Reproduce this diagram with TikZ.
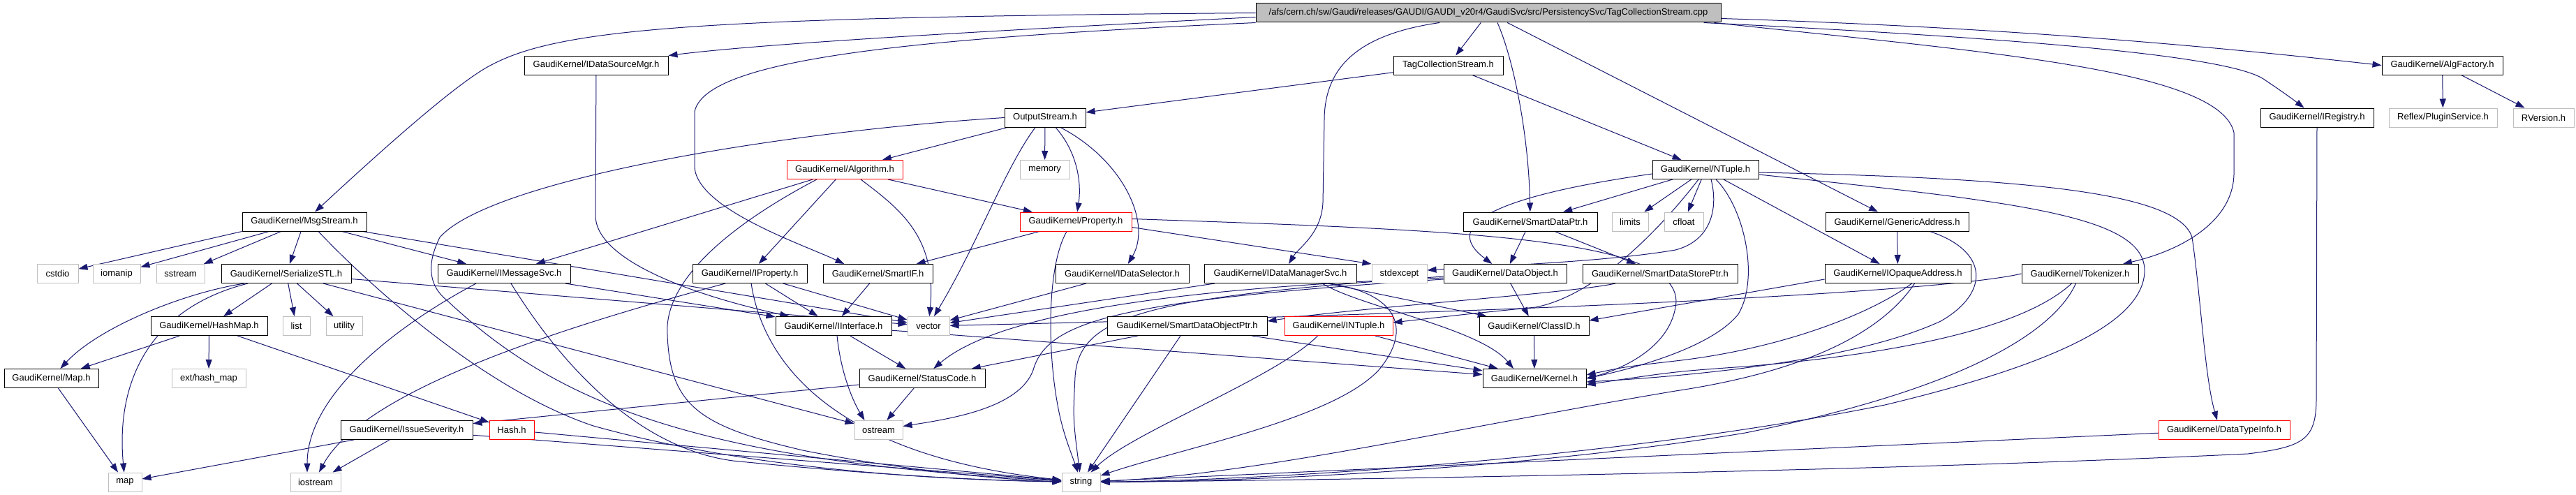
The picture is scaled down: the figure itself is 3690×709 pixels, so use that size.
\documentclass[tikz,border=0pt]{standalone}
\usepackage{fontspec}
\setmainfont{Liberation Sans}
\usetikzlibrary{arrows.meta}
\pgfdeclarelayer{bg}
\pgfsetlayers{bg,main}
\definecolor{edgeblue}{RGB}{25,25,112}
\definecolor{grayborder}{RGB}{191,191,191}
\definecolor{rootfill}{RGB}{191,191,191}
\tikzset{
  nb/.style={draw=black, fill=white, line width=1pt, minimum height=27pt, inner sep=0pt, font=\fontsize{13pt}{15pt}\selectfont, text=black},
  ng/.style={nb, draw=grayborder},
  nr/.style={nb, draw=red},
  nroot/.style={nb, fill=rootfill},
  dep/.style={draw=edgeblue, line width=1pt, -{Triangle[length=13pt,width=9pt]}},
}
\begin{document}
\begin{tikzpicture}[x=1pt,y=-1pt]
\useasboundingbox (0,0) rectangle (3690,709);
% row 0
\node[nroot, minimum width=666pt] (root) at (2132,18.5) {/afs/cern.ch/sw/Gaudi/releases/GAUDI/GAUDI\_v20r4/GaudiSvc/src/PersistencySvc/TagCollectionStream.cpp};
% row 1
\node[nb, minimum width=206pt] (dsm) at (854,93.5) {GaudiKernel/IDataSourceMgr.h};
\node[nb, minimum width=157pt] (tcs) at (2074.5,93.5) {TagCollectionStream.h};
\node[nb, minimum width=173pt] (algf) at (3498.5,93.5) {GaudiKernel/AlgFactory.h};
% row 2
\node[nb, minimum width=116pt] (outs) at (1497,168.5) {OutputStream.h};
\node[nb, minimum width=162pt] (ireg) at (3319,168.5) {GaudiKernel/IRegistry.h};
\node[ng, minimum width=155pt] (plug) at (3499.5,168.5) {Reflex/PluginService.h};
\node[ng, minimum width=87pt] (rver) at (3643.5,168.5) {RVersion.h};
% row 3
\node[nr, minimum width=166pt] (algo) at (1210,243) {GaudiKernel/Algorithm.h};
\node[ng, minimum width=71pt] (mem) at (1496.5,243) {memory};
\node[nb, minimum width=152pt] (ntup) at (2443,243) {GaudiKernel/NTuple.h};
% row 4
\node[nb, minimum width=178pt] (msg) at (436,317.5) {GaudiKernel/MsgStream.h};
\node[nr, minimum width=160pt] (prop) at (1541,317.5) {GaudiKernel/Property.h};
\node[nb, minimum width=192pt] (sdp) at (2192,317.5) {GaudiKernel/SmartDataPtr.h};
\node[ng, minimum width=52pt] (lim) at (2335,317.5) {limits};
\node[ng, minimum width=56pt] (cfl) at (2412,317.5) {cfloat};
\node[nb, minimum width=205pt] (gen) at (2717.5,317.5) {GaudiKernel/GenericAddress.h};
% row 5
\node[ng, minimum width=59pt] (cstd) at (82.5,392) {cstdio};
\node[ng, minimum width=68pt] (ioma) at (167,392) {iomanip};
\node[ng, minimum width=69pt] (sstr) at (258.5,392) {sstream};
\node[nb, minimum width=186pt] (ser) at (410,392) {GaudiKernel/SerializeSTL.h};
\node[nb, minimum width=190pt] (imsg) at (722,392) {GaudiKernel/IMessageSvc.h};
\node[nb, minimum width=164pt] (iprop) at (1074,392) {GaudiKernel/IProperty.h};
\node[nb, minimum width=157pt] (sif) at (1257.5,392) {GaudiKernel/SmartIF.h};
\node[nb, minimum width=191pt] (dsel) at (1607.5,392) {GaudiKernel/IDataSelector.h};
\node[nb, minimum width=218pt] (dmgr) at (1834,392) {GaudiKernel/IDataManagerSvc.h};
\node[ng, minimum width=79pt] (stdx) at (2004.5,392) {stdexcept};
\node[nb, minimum width=176pt] (dobj) at (2156,392) {GaudiKernel/DataObject.h};
\node[nb, minimum width=222pt] (sdsp) at (2378,392) {GaudiKernel/SmartDataStorePtr.h};
\node[nb, minimum width=209pt] (opq) at (2718.5,392) {GaudiKernel/IOpaqueAddress.h};
\node[nb, minimum width=167pt] (tok) at (2979.5,392) {GaudiKernel/Tokenizer.h};
% row 6
\node[nb, minimum width=167pt] (hmap) at (299.5,467) {GaudiKernel/HashMap.h};
\node[ng, minimum width=39pt] (lst) at (424.5,467) {list};
\node[ng, minimum width=52pt] (util) at (493,467) {utility};
\node[nb, minimum width=166pt] (iint) at (1194,467) {GaudiKernel/IInterface.h};
\node[ng, minimum width=60pt] (vec) at (1330,467) {vector};
\node[nb, minimum width=229pt] (sdop) at (1700.5,467) {GaudiKernel/SmartDataObjectPtr.h};
\node[nr, minimum width=155pt] (intup) at (1917.5,467) {GaudiKernel/INTuple.h};
\node[nb, minimum width=157pt] (cid) at (2197.5,467) {GaudiKernel/ClassID.h};
% row 7
\node[nb, minimum width=135pt] (mapH) at (73.5,542) {GaudiKernel/Map.h};
\node[ng, minimum width=106pt] (ehm) at (299,542) {ext/hash\_map};
\node[nb, minimum width=180pt] (sc) at (1321,542) {GaudiKernel/StatusCode.h};
\node[nb, minimum width=148pt] (kern) at (2198,542) {GaudiKernel/Kernel.h};
% row 8
\node[nb, minimum width=189pt] (iss) at (582.5,616) {GaudiKernel/IssueSeverity.h};
\node[nr, minimum width=64pt] (hash) at (733,616) {Hash.h};
\node[ng, minimum width=69pt] (ost) at (1258.5,616) {ostream};
\node[nr, minimum width=188pt] (dti) at (3186,616) {GaudiKernel/DataTypeInfo.h};
% row 9
\node[ng, minimum width=48pt] (mapS) at (179,690.5) {map};
\node[ng, minimum width=72pt] (iost) at (452,690.5) {iostream};
\node[ng, minimum width=55pt] (str) at (1548.5,690.5) {string};

\begin{pgfonlayer}{bg}
\fill[white] (0,0) rectangle (3690,709);
% root
\draw[dep] (root.west) .. controls (1000,25) and (800,40) .. (700,95) .. controls (645,125) and (520,240) .. (msg);
\draw[dep] ([yshift=-6pt]root.west) .. controls (1400,45) and (1100,62) .. (dsm.north east);
\draw[dep] (root) -- (tcs);
\draw[dep] (root.south west) .. controls (1300,55) and (1010,85) .. (995,160) -- (995,240) .. controls (1000,300) and (1150,350) .. ([xshift=-48pt]sif.north);
\draw[dep] ([xshift=-70pt]root.south) .. controls (1940,50) and (1898,100) .. (1897,170) -- (1895,290) .. controls (1893,335) and (1860,355) .. ([xshift=12pt]dmgr.north);
\draw[dep] ([xshift=13pt]root.south) .. controls (2170,90) and (2190,200) .. (sdp);
\draw[dep] (root) -- (gen);
\draw[dep] ([yshift=-8pt]root.east) .. controls (2900,40) and (3200,70) .. (algf.west);
\draw[dep] ([xshift=-25pt]root.south east) .. controls (2900,55) and (3200,80) .. (3245,115) .. controls (3275,135) and (3292,148) .. (ireg);
\draw[dep] ([xshift=-10pt]root.south east) .. controls (2850,75) and (3180,100) .. (3200,190) -- (3200,250) .. controls (3198,320) and (3120,360) .. (tok);
% TagCollectionStream.h
\draw[dep] (tcs) -- (outs);
\draw[dep] (tcs) -- (ntup);
% AlgFactory
\draw[dep] (algf) -- (plug);
\draw[dep] (algf) -- (rver);
% IRegistry
\draw[dep] (ireg) -- (3318,570) .. controls (3318,630) and (3300,640) .. (3220,650) .. controls (2700,675) and (1900,688) .. (str);
% OutputStream
\draw[dep] (outs) -- (algo);
\draw[dep] (outs) -- (mem);
\draw[dep] ([xshift=15pt]outs.south) .. controls (1545,220) and (1549,265) .. (prop);
\draw[dep] ([xshift=22pt]outs.south) .. controls (1610,230) and (1650,320) .. (dsel);
\draw[dep] ([xshift=-14pt]outs.south) .. controls (1440,240) and (1400,350) .. ([xshift=8pt]vec.north);
\draw[dep] (outs.west) .. controls (1100,190) and (700,260) .. (630,340) .. controls (610,380) and (615,410) .. (640,430) .. controls (800,580) and (1000,660) .. (str);
% Algorithm
\draw[dep] (algo) -- (prop);
\draw[dep] (algo) -- (imsg);
\draw[dep] (algo) -- (iprop);
\draw[dep] ([xshift=23pt]algo.south) .. controls (1290,300) and (1342,340) .. (vec);
\draw[dep] ([xshift=-40pt]algo.south) .. controls (1050,320) and (950,400) .. (956,480) .. controls (960,580) and (1000,610) .. (1150,645) .. controls (1300,675) and (1450,688) .. (str);
% Property
\draw[dep] ([xshift=-52pt]prop.south) -- ([xshift=55pt]sif.north);
\draw[dep] ([xshift=-13pt]prop.south) .. controls (1500,380) and (1500,500) .. (1515,580) .. controls (1522,620) and (1535,650) .. (str);
\draw[dep] ([yshift=-8pt]prop.east) -- (stdx.north west);
\draw[dep] ([yshift=4pt]prop.east) .. controls (2100,330) and (2420,340) .. (2400,440) .. controls (2390,500) and (2320,530) .. (kern.east);
% MsgStream
\draw[dep] (msg.south west) -- (cstd);
\draw[dep] (msg) -- (ioma);
\draw[dep] (msg) -- (sstr);
\draw[dep] (msg) -- (ser);
\draw[dep] (msg) -- (imsg);
\draw[dep] (msg) -- (vec);
\draw[dep] ([xshift=20pt]msg.south) .. controls (540,420) and (700,560) .. (850,610) .. controls (1100,680) and (1400,688) .. (str);
% SerializeSTL
\draw[dep] ([xshift=-60pt]ser.south) .. controls (260,420) and (140,470) .. (mapH);
\draw[dep] ([xshift=-55pt]ser.south) .. controls (220,440) and (165,540) .. (mapS);
\draw[dep] (ser) -- (hmap);
\draw[dep] (ser) -- (lst);
\draw[dep] (ser) -- (util);
\draw[dep] (ser) -- (vec);
\draw[dep] (ser) -- (ost);
% HashMap, Map, Hash
\draw[dep] (hmap) -- (mapH);
\draw[dep] (hmap) -- (ehm);
\draw[dep] (hmap) -- (hash);
\draw[dep] (mapH) -- (mapS);
\draw[dep] (hash) -- (str);
% IssueSeverity
\draw[dep] (iss) -- (mapS);
\draw[dep] (iss) -- (iost);
\draw[dep] (iss) -- (str);
% IMessageSvc
\draw[dep] (imsg) -- (iint);
\draw[dep] ([xshift=-40pt]imsg.south) .. controls (580,460) and (440,560) .. ([xshift=-12pt]iost.north);
\draw[dep] ([xshift=10pt]imsg.south) .. controls (790,500) and (900,640) .. (1050,660) .. controls (1250,680) and (1400,688) .. (str);
% IProperty
\draw[dep] (iprop) -- (iint);
\draw[dep] ([xshift=-35pt]iprop.south) .. controls (800,470) and (520,560) .. ([xshift=5pt]iost.north);
\draw[dep] (iprop) .. controls (1090,500) and (1170,650) .. (str);
\draw[dep] (iprop) -- (vec);
% SmartIF, IDataSourceMgr
\draw[dep] (sif) -- (iint);
\draw[dep] (dsm) -- (853,310) .. controls (855,370) and (980,420) .. (iint);
% IInterface
\draw[dep] (iint) -- (kern);
\draw[dep] (iint) -- (sc);
\draw[dep] ([xshift=5pt]iint.south) .. controls (1205,540) and (1225,580) .. ([xshift=-20pt]ost.north);
% StatusCode
\draw[dep] (sc) -- (ost);
\draw[dep] (sc) -- (iss);
% IDataSelector
\draw[dep] (dsel) -- (vec);
% IDataManagerSvc
\draw[dep] (dmgr) -- (cid);
\draw[dep] ([xshift=60pt]dmgr.south) .. controls (1950,440) and (2120,470) .. ([xshift=-30pt]kern.north);
\draw[dep] ([xshift=70pt]dmgr.south) .. controls (2000,420) and (2025,470) .. (1975,530) .. controls (1910,600) and (1700,640) .. (str);
\draw[dep] (dmgr) -- (vec);
% DataObject
\draw[dep] (dobj) -- (cid);
\draw[dep] ([yshift=-6pt]dobj.west) .. controls (1750,410) and (1440,440) .. (sc);
\draw[dep] ([yshift=-8pt]dobj.west) .. controls (1600,430) and (1500,460) .. (1480,530) .. controls (1460,585) and (1360,600) .. (ost);
\draw[dep] ([yshift=-4pt]dobj.west) .. controls (1650,425) and (1545,450) .. (1540,540) .. controls (1537,600) .. (str);
% SmartDataPtr, SmartDataStorePtr, SmartDataObjectPtr
\draw[dep] (sdp) -- (dobj);
\draw[dep] (sdp) -- (sdsp);
\draw[dep] (sdsp) .. controls (2250,420) and (1950,440) .. ([yshift=7pt]sdop.east);
\draw[dep] (sdop) -- (sc);
\draw[dep] (sdop) -- (str);
\draw[dep] (sdop) -- (kern);
% ClassID, INTuple
\draw[dep] (cid) -- (kern);
\draw[dep] (intup) -- (kern);
\draw[dep] ([xshift=-30pt]intup.south) .. controls (1830,540) and (1620,620) .. (str);
% NTuple
\draw[dep] (ntup) -- (sdp);
\draw[dep] (ntup) -- (lim);
\draw[dep] (ntup) -- (cfl);
\draw[dep] ([yshift=-6pt]ntup.west) .. controls (2150,280) and (2060,320) .. (dobj);
\draw[dep] ([xshift=8pt]ntup.south) .. controls (2462,300) and (2450,345) .. (2400,358) .. controls (2300,375) and (2150,380) .. ([yshift=5pt]stdx.east);
\draw[dep] ([xshift=15pt]ntup.south) .. controls (2500,300) and (2520,400) .. (2490,450) .. controls (2450,500) and (2330,530) .. (kern.east);
\draw[dep] (ntup) -- (opq);
\draw[dep] ([xshift=-10pt]ntup.south) .. controls (2400,300) and (2300,420) .. (2200,440) .. controls (2100,450) .. ([yshift=5pt]intup.east);
\draw[dep] ([yshift=-4pt]ntup.east) .. controls (2900,255) and (3120,275) .. (3140,340) .. controls (3152,420) and (3158,540) .. ([xshift=-10pt]dti.north);
\draw[dep] ([yshift=-7pt]ntup.east) .. controls (2900,290) and (3075,310) .. (3072,390) .. controls (3068,460) and (2950,520) .. (2700,580) .. controls (2300,660) and (1800,688) .. (str);
% GenericAddress
\draw[dep] (gen) -- (opq);
\draw[dep] ([xshift=47pt]gen.south) .. controls (2850,360) and (2850,420) .. (2780,460) .. controls (2650,520) and (2400,540) .. ([yshift=-5pt]kern.east);
% IOpaqueAddress
\draw[dep] ([yshift=-8pt]opq.west) -- ([yshift=8pt]cid.east);
\draw[dep] ([xshift=20pt]opq.south) .. controls (2680,450) and (2550,500) .. (2400,517) .. controls (2330,525) .. ([yshift=5pt]kern.east);
\draw[dep] ([xshift=24pt]opq.south) .. controls (2700,470) and (2600,530) .. (2400,560) .. controls (2100,610) and (1800,680) .. (str);
% Tokenizer
\draw[dep] (tok.west) .. controls (2800,415) and (2300,445) .. (vec);
\draw[dep] ([xshift=-12pt]tok.south) .. controls (2920,450) and (2800,500) .. (2500,525) .. controls (2400,532) .. ([yshift=-9pt]kern.east);
\draw[dep] ([xshift=-6pt]tok.south) .. controls (2940,480) and (2800,560) .. (2500,620) .. controls (2200,670) and (1800,690) .. (str);
% DataTypeInfo
\draw[dep] (dti) -- (str);
\end{pgfonlayer}
\end{tikzpicture}
\end{document}
